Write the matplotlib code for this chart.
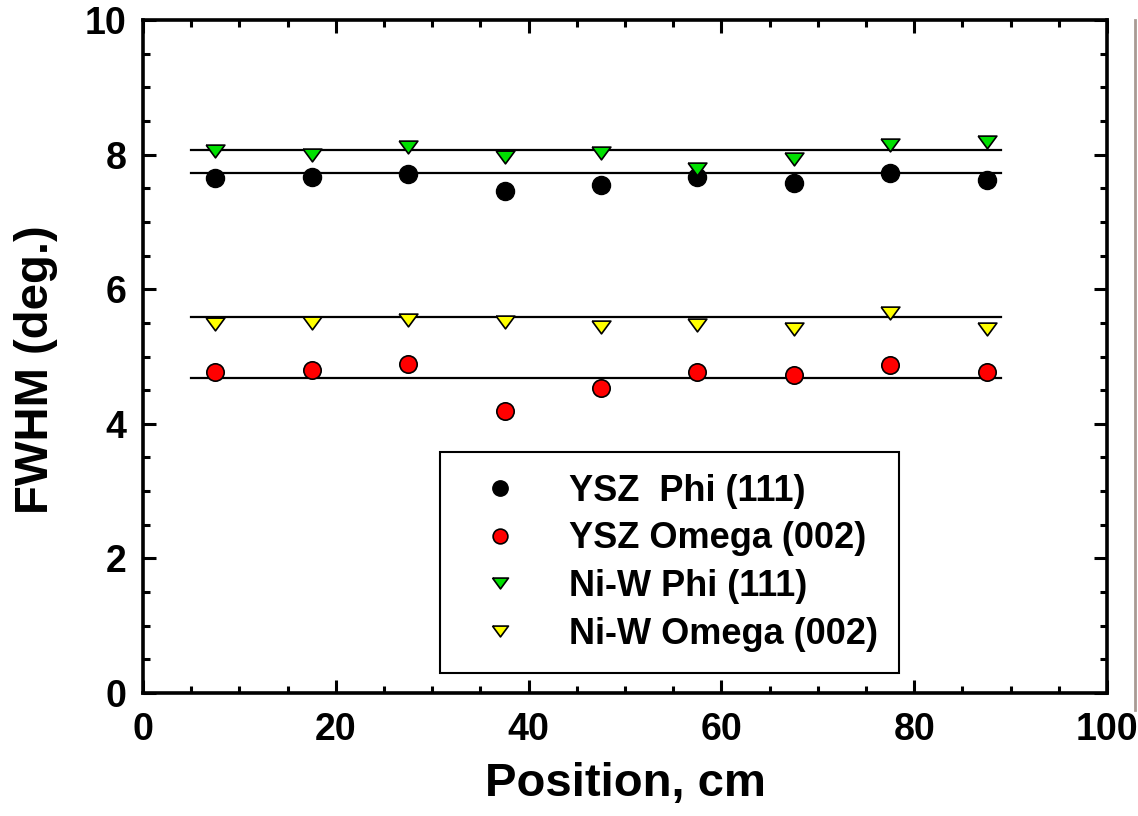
import matplotlib.pyplot as plt
from matplotlib.lines import Line2D
from matplotlib.ticker import MultipleLocator

plt.rcParams['font.family'] = ['Liberation Sans', 'DejaVu Sans']
plt.rcParams['font.weight'] = 'bold'

# positions along the tape (cm)
position = [7.5, 17.5, 27.5, 37.5, 47.5, 57.5, 67.5, 77.5, 87.5]

# FWHM values (deg.)
ysz_phi = [7.65, 7.66, 7.71, 7.46, 7.55, 7.66, 7.58, 7.73, 7.62]
ysz_omega = [4.77, 4.80, 4.89, 4.19, 4.53, 4.77, 4.73, 4.87, 4.77]
niw_phi = [8.06, 8.00, 8.12, 7.96, 8.03, 7.78, 7.94, 8.14, 8.18]
niw_omega = [5.49, 5.50, 5.54, 5.52, 5.44, 5.47, 5.41, 5.65, 5.41]

# horizontal average lines
avg_x = [5, 89]
avg_levels = [8.07, 7.72, 5.58, 4.685]

labels = ['YSZ  Phi (111)', 'YSZ Omega (002)', 'Ni-W Phi (111)', 'Ni-W Omega (002)']

# wide, flat down-pointing triangle
tri_down = [(-1.0, 0.68), (1.0, 0.68), (0.0, -0.68), (-1.0, 0.68)]

fig = plt.figure(figsize=(11.38, 8.16), dpi=100)
ax = fig.add_axes([0.1257, 0.1507, 0.8471, 0.8248])

for lvl in avg_levels:
    ax.plot(avg_x, [lvl, lvl], color='black', lw=1.6, zorder=1)

ax.plot(position, ysz_phi, ls='none', marker='o', ms=13, mfc='black',
        mec='black', mew=1.0, label=labels[0], zorder=3)
ax.plot(position, ysz_omega, ls='none', marker='o', ms=12.5, mfc='#ff0000',
        mec='black', mew=1.2, label=labels[1], zorder=3)
ax.plot(position, niw_phi, ls='none', marker=tri_down, ms=13.5, mfc='#00e000',
        mec='black', mew=1.2, label=labels[2], zorder=3)
ax.plot(position, niw_omega, ls='none', marker=tri_down, ms=13.5, mfc='#ffff00',
        mec='black', mew=1.2, label=labels[3], zorder=3)

ax.set_xlim(0, 100)
ax.set_ylim(0, 10)
ax.xaxis.set_major_locator(MultipleLocator(20))
ax.xaxis.set_minor_locator(MultipleLocator(5))
ax.yaxis.set_major_locator(MultipleLocator(2))
ax.yaxis.set_minor_locator(MultipleLocator(0.5))

for s in ax.spines.values():
    s.set_linewidth(2.6)

ax.tick_params(which='both', direction='in', top=True, right=True, width=2.2)
ax.tick_params(which='major', length=9.5, labelsize=27)
ax.tick_params(which='minor', length=5)
ax.tick_params(axis='x', which='major', pad=14)
ax.tick_params(axis='y', which='major', pad=12)

ax.set_xlabel('Position, cm', fontsize=34, fontweight='bold')
ax.set_ylabel('FWHM (deg.)', fontsize=34, fontweight='bold')
ax.xaxis.set_label_coords(0.5, -0.103)
ax.yaxis.set_label_coords(-0.088, 0.481)

leg = ax.legend(loc='upper left', bbox_to_anchor=(0.308, 0.358), borderaxespad=0,
                prop={'family': 'Liberation Sans', 'weight': 'bold', 'size': 26},
                frameon=True, fancybox=False, edgecolor='black', framealpha=1,
                handlelength=2.1, handletextpad=0.86, borderpad=0.6,
                labelspacing=0.35, markerscale=0.85)
leg.get_frame().set_linewidth(1.5)

# grey scan edge on the right border of the original image
fig.add_artist(Line2D([0.9974, 0.9974], [0.13, 0.975], color='#a89a94', lw=2.0))

fig.savefig('out.png', dpi=100)
